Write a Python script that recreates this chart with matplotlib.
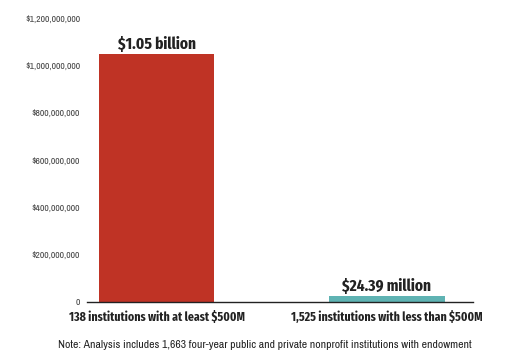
import matplotlib
matplotlib.use("Agg")
import matplotlib.pyplot as plt
from matplotlib.ticker import FuncFormatter

# Average endowment per institution
categories = [
    "138 institutions with at least $500M",
    "1,525 institutions with less than $500M",
]
values = [1.05e9, 24.39e6]
value_labels = ["$1.05 billion", "$24.39 million"]
colors = ["#bf3325", "#5fb3b3"]
yticks = [0, 2e8, 4e8, 6e8, 8e8, 1e9, 1.2e9]
note = ("Note: Analysis includes 1,663 four-year public and private "
        "nonprofit institutions with endowment")

plt.rcParams["font.family"] = ["Archivo Narrow", "PT Sans Narrow", "DejaVu Sans"]
bold_family = ["Fira Sans Extra Condensed", "Fira Sans Condensed", "DejaVu Sans"]

fig = plt.figure(figsize=(5.29, 3.53), dpi=100)
ax = fig.add_axes([0.1645, 0.1445, 0.7297, 0.8045])

x = list(range(len(categories)))
ax.bar(x, values, width=0.5, color=colors)

for xi, v, lab in zip(x, values, value_labels):
    ax.annotate(lab, (xi, v), xytext=(0, 1), textcoords="offset points",
                ha="center", va="bottom", fontsize=12, fontweight="bold",
                family=bold_family, color="#222222")

ax.set_xlim(-0.304, 1.374)
ax.set_ylim(0, 1.2e9)
ax.set_yticks(yticks)
ax.yaxis.set_major_formatter(
    FuncFormatter(lambda v, p: "0" if v == 0 else f"${v:,.0f}"))
ax.tick_params(axis="y", length=0, pad=5, labelsize=7, labelcolor="#444444")

ax.set_xticks(x)
ax.set_xticklabels(categories, fontsize=9.2, fontweight="bold",
                   family=bold_family, color="#222222")
ax.tick_params(axis="x", length=0, pad=6)

for side in ["top", "right", "left"]:
    ax.spines[side].set_visible(False)
ax.spines["bottom"].set_color("#222222")
ax.spines["bottom"].set_linewidth(1.0)

fig.text(0.5, 0.024, note, ha="center", va="center", fontsize=8.4,
         color="#222222")

fig.savefig("out.png", dpi=100)
